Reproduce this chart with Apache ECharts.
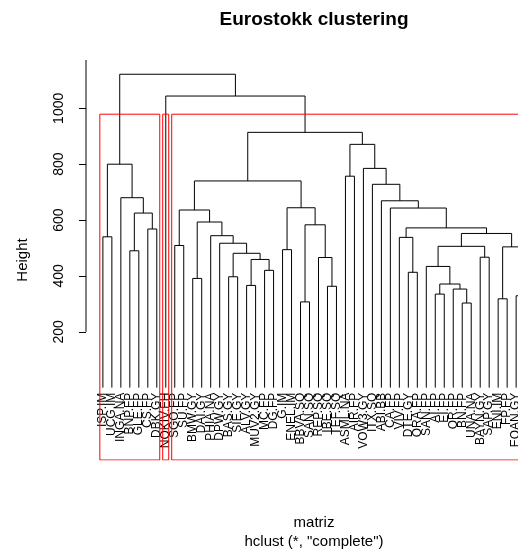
<!DOCTYPE html>
<html>
<head>
<meta charset="utf-8">
<script src="https://cdn.jsdelivr.net/npm/echarts@6/dist/echarts.min.js"></script>
<style>
html, body { margin: 0; padding: 0; background: #ffffff; }
#chart { width: 518px; height: 555px; }
</style>
</head>
<body>
<div id="chart"></div>
<script>
// Leaf labels, listed in the order they are drawn (left to right)
const LEAF_LABELS = [
  'ISP.IM', 'UCG.IM', 'INGA.NA', 'BNP.FP', 'GLE.FP', 'CS.FP', 'DBK.GY', 'NOKIV.FH',
  'SGO.FP', 'SU.FP', 'BMW.GY', 'DAI.GY', 'PHIA.NA', 'DPW.GY', 'BAS.GY', 'SIE.GY',
  'ALV.GY', 'MUV2.GY', 'MC.FP', 'DG.FP', 'G.IM', 'ENEL.IM', 'BBVA.SQ', 'SAN.SQ',
  'REP.SQ', 'IBE.SQ', 'TEF.SQ', 'ASML.NA', 'AIR.FP', 'VOW3.GY', 'ITX.SQ', 'ABI.BB',
  'CA.FP', 'VIV.FP', 'DTE.GY', 'ORA.FP', 'SAN.FP', 'AI.FP', 'EI.FP', 'OR.FP',
  'BN.FP', 'UNA.NA', 'BAYN.GY', 'SAP.GY', 'ENI.IM', 'FP.FP', 'EOAN.GY', 'ENGI.FP'
];

// hclust merge table: negative = leaf (1-based into LEAF_LABELS), positive = earlier merge row (1-based)
const MERGE_LEFT = [
  -41, -23, -45, -47, -38, -40, -26, -17, 5, -11,
  -15, -35, -19, -37, 8, -25, -43, 11, -4, -21,
  3, 14, -9, -14, -34, -1, -13, 22, -6, 25,
  2, 10, 19, 23, -33, 20, -32, -3, -31, 34,
  -28, -30, 26, 41, 40, -8, 43
];
const MERGE_RIGHT = [
  -42, -24, -46, -48, -39, 1, -27, -18, 6, -12,
  -16, -36, -20, 9, 13, 7, -44, 15, -5, -22,
  4, 17, -10, 18, 12, -2, 24, 21, -7, 28,
  16, 27, 29, 32, 30, 31, 35, 33, 37, 36,
  -29, 39, 38, 42, 44, 45, 46
];
const MERGE_HEIGHT = [
  303, 307, 318, 329, 335, 353, 363, 366, 371, 391,
  397, 413, 420, 434, 459, 466, 467, 481, 490, 494,
  504, 506, 509, 517, 538, 540, 544, 552, 568, 572,
  583, 593, 625, 636, 643, 644, 669, 680, 728, 740,
  757, 785, 800, 871, 914, 1044, 1122
];

// Number of clusters outlined by rectangles
const K_CLUSTERS = 3;

// Y-axis ticks and labels
const Y_TICKS = [200, 400, 600, 800, 1000];

// Texts
const MAIN_TITLE = 'Eurostokk clustering';
const Y_NAME = 'Height';
const X_NAME = 'matriz';
const SUB_TITLE = 'hclust (*, "complete")';

// ---------- layout of the tree ----------
const nLeaves = LEAF_LABELS.length;
const nMerges = MERGE_HEIGHT.length;

// leaf order from a left-first walk of the tree
const leafPos = new Array(nLeaves + 1);
let counter = 0;
function walk(ref) {
  if (ref < 0) { leafPos[-ref] = ++counter; return; }
  walk(MERGE_LEFT[ref - 1]);
  walk(MERGE_RIGHT[ref - 1]);
}
walk(nMerges);

const nodeX = new Array(nMerges + 1);
function xOf(ref) { return ref < 0 ? leafPos[-ref] : nodeX[ref]; }
function hOf(ref) { return ref < 0 ? 0 : MERGE_HEIGHT[ref - 1]; }
for (let r = 1; r <= nMerges; r++) {
  nodeX[r] = (xOf(MERGE_LEFT[r - 1]) + xOf(MERGE_RIGHT[r - 1])) / 2;
}

const branchData = [];
for (let r = 1; r <= nMerges; r++) {
  const a = MERGE_LEFT[r - 1], b = MERGE_RIGHT[r - 1], h = MERGE_HEIGHT[r - 1];
  branchData.push({
    coords: [[xOf(a), hOf(a)], [xOf(a), h], [xOf(b), h], [xOf(b), hOf(b)]]
  });
}

// ---------- axis extents (4% padding on each side, as in base R plots) ----------
const X_MIN = 1 - 0.04 * (nLeaves - 1);
const X_MAX = nLeaves + 0.04 * (nLeaves - 1);
const Y_MIN = -259;
const Y_MAX = 1173;

// ---------- cluster rectangles (cut tree into K groups) ----------
const topRows = [];
for (let i = 0; i < K_CLUSTERS - 1; i++) topRows.push(nMerges - i);
const groups = [];
topRows.forEach(function (r) {
  [MERGE_LEFT[r - 1], MERGE_RIGHT[r - 1]].forEach(function (c) {
    if (c < 0 || topRows.indexOf(c) < 0) groups.push(c);
  });
});
function leafRange(ref) {
  if (ref < 0) return [leafPos[-ref], leafPos[-ref]];
  const l = leafRange(MERGE_LEFT[ref - 1]), rr = leafRange(MERGE_RIGHT[ref - 1]);
  return [Math.min(l[0], rr[0]), Math.max(l[1], rr[1])];
}
const sortedH = MERGE_HEIGHT.slice().sort(function (p, q) { return q - p; });
const boxTop = (sortedH[K_CLUSTERS - 2] + sortedH[K_CLUSTERS - 1]) / 2;
const boxData = groups.map(function (g) {
  const rg = leafRange(g);
  const x0 = rg[0] - 0.34, x1 = rg[1] + 0.33;
  return { coords: [[x0, Y_MIN], [x0, boxTop], [x1, boxTop], [x1, Y_MIN], [x0, Y_MIN]] };
});

// ---------- chart ----------
const FONT = '"Liberation Sans", Arial, Helvetica, sans-serif';
const GRID = { left: 86, top: 60, width: 456, height: 400, containLabel: false, outerBoundsMode: 'none' };
const CX = GRID.left + GRID.width / 2;
// leaf labels hang just below height 0: shift the x axes up from the grid bottom to h = 0
const X_AXIS_OFFSET = -(0 - Y_MIN) / (Y_MAX - Y_MIN) * GRID.height;

const labelAt = {};
for (let i = 1; i <= nLeaves; i++) labelAt[leafPos[i]] = LEAF_LABELS[i - 1];
// leaf label positions split into two interleaved sets so neighbouring names never collide
const oddPositions = [], evenPositions = [];
for (let p = 1; p <= nLeaves; p++) (p % 2 ? oddPositions : evenPositions).push(p);

function leafAxis(positions) {
  return {
    type: 'value', min: X_MIN, max: X_MAX,
    position: 'bottom', offset: X_AXIS_OFFSET,
    axisLine: { show: false, onZero: false },
    axisTick: { show: false },
    splitLine: { show: false },
    axisLabel: {
      customValues: positions,
      showMinLabel: true, showMaxLabel: true, hideOverlap: false,
      formatter: function (v) { return labelAt[Math.round(v)] || ''; },
      rotate: 90, margin: 5, fontSize: 12, fontFamily: FONT, color: '#000'
    }
  };
}

const chart = echarts.init(document.getElementById('chart'), null, { renderer: 'canvas' });
chart.setOption({
  backgroundColor: '#ffffff',
  animation: false,
  title: [
    { text: MAIN_TITLE, left: CX, textAlign: 'center', top: 10, padding: 0,
      textStyle: { fontFamily: FONT, fontSize: 19, fontWeight: 'bold', color: '#000' } },
    { text: X_NAME, left: CX, textAlign: 'center', top: 515, padding: 0,
      textStyle: { fontFamily: FONT, fontSize: 15, fontWeight: 'normal', color: '#000' } },
    { text: SUB_TITLE, left: CX, textAlign: 'center', top: 534, padding: 0,
      textStyle: { fontFamily: FONT, fontSize: 15, fontWeight: 'normal', color: '#000' } }
  ],
  grid: GRID,
  xAxis: [leafAxis(oddPositions), leafAxis(evenPositions)],
  yAxis: {
    type: 'value', min: Y_MIN, max: Y_MAX,
    axisLine: { show: false, onZero: false },
    axisTick: { show: true, customValues: Y_TICKS, length: 7, lineStyle: { color: '#000', width: 1 } },
    splitLine: { show: false },
    axisLabel: {
      customValues: Y_TICKS, rotate: 90, margin: 20,
      showMinLabel: true, showMaxLabel: true,
      formatter: function (v) { return String(v); },
      fontSize: 14, fontFamily: FONT, color: '#000'
    },
    name: Y_NAME, nameLocation: 'middle', nameRotate: 90, nameGap: 56,
    nameTextStyle: { fontSize: 15, fontFamily: FONT, color: '#000' }
  },
  series: [
    {
      type: 'lines', coordinateSystem: 'cartesian2d', polyline: true, silent: true,
      xAxisIndex: 0, yAxisIndex: 0,
      lineStyle: { color: '#000', width: 1, opacity: 1 },
      data: branchData
    },
    {
      type: 'lines', coordinateSystem: 'cartesian2d', polyline: true, silent: true,
      xAxisIndex: 0, yAxisIndex: 0,
      lineStyle: { color: '#ff0000', width: 1, opacity: 1 },
      data: boxData
    },
    {
      // y-axis line from the lowest tick up to the top of the plotting region
      type: 'lines', coordinateSystem: 'cartesian2d', polyline: true, silent: true,
      xAxisIndex: 0, yAxisIndex: 0,
      lineStyle: { color: '#000', width: 1, opacity: 1 },
      data: [{ coords: [[X_MIN, Y_TICKS[0]], [X_MIN, Y_MAX]] }]
    }
  ]
});
</script>
</body>
</html>
